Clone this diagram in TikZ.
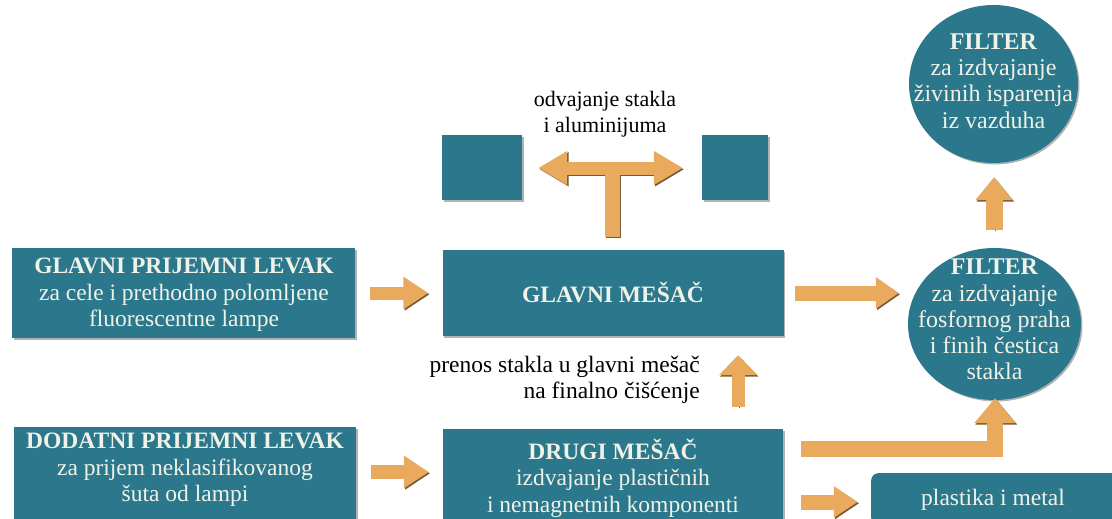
\documentclass[tikz,border=0pt]{standalone}
\usepackage{fontspec}
\setmainfont{Liberation Serif}
\usetikzlibrary{shapes.geometric,shadows,arrows.meta,calc}
\definecolor{boxteal}{RGB}{43,120,140}
\definecolor{boxtext}{RGB}{240,242,232}
\definecolor{arroworange}{RGB}{233,170,94}
\definecolor{arrowshade}{RGB}{120,88,55}
\begin{document}
\begin{tikzpicture}[x=1pt,y=-1pt,
  txt/.style={font=\fontsize{23.5}{26.5}\selectfont, align=center, inner sep=0pt},
  tealbox/.style={rectangle, fill=boxteal, text=boxtext, inner sep=0pt,
    drop shadow={shadow xshift=1.5pt, shadow yshift=-1.5pt, fill=black, opacity=0.3}},
  tealoval/.style={ellipse, fill=boxteal, inner sep=0pt,
    drop shadow={shadow xshift=1.5pt, shadow yshift=-1.5pt, fill=black, opacity=0.3}},
  intext/.style={txt, text=boxtext},
  ovaltext/.style={txt, text=boxtext, font=\fontsize{24}{26.2}\selectfont},
  freetext/.style={txt, text=black},
  blockarrow/.style n args={3}{draw=arroworange, line width=#1, line join=miter,
    -{Triangle[width=#2,length=#3]},
    preaction={draw=arrowshade, transform canvas={shift={(1.3pt,-1.3pt)}}}},
]
\useasboundingbox (0,0) rectangle (1112,519);
\fill[white] (0,0) rectangle (1112,519);

% boxes
\node[tealbox, minimum width=343, minimum height=90] (L1) at (183.5,293) {};
\node[intext] at (184,295) {\textbf{GLAVNI PRIJEMNI LEVAK}\\za cele i prethodno polomljene\\fluorescentne lampe};
\node[tealbox, minimum width=342, minimum height=94] (L2) at (185,474) {};
\node[intext] (L2t) at (185,470) {\textbf{DODATNI PRIJEMNI LEVAK}\\za prijem neklasifikovanog\\šuta od lampi};
\node[tealbox, minimum width=341, minimum height=86] (M1) at (613,293) {};
\node[intext] at (613,292) {\textbf{GLAVNI MEŠAČ}};
\node[tealbox, minimum width=340, minimum height=96] (M2) at (613,477) {};
\node[intext] at (613,478) {\textbf{DRUGI MEŠAČ}\\izdvajanje plastičnih\\i nemagnetnih komponenti};
\node[tealbox, minimum width=80, minimum height=65] (S1) at (482,167.5) {};
\node[tealbox, minimum width=66, minimum height=65] (S2) at (735,167.5) {};
\node[tealoval, minimum width=169, minimum height=158] (F1) at (993.5,84) {};
\node[ovaltext] at (993.5,81) {\textbf{FILTER}\\za izdvajanje\\živinih isparenja\\iz vazduha};
\node[tealoval, minimum width=173, minimum height=152] (F2) at (994.5,324) {};
\node[ovaltext] at (994.5,319.5) {\textbf{FILTER}\\za izdvajanje\\fosfornog praha\\i finih čestica\\stakla};
\node[tealbox, rounded corners=8pt, minimum width=254, minimum height=52] (P) at (998,499) {};
\node[intext] at (993,500) {plastika i metal};

% free labels
\node[freetext, font=\fontsize{22}{26}\selectfont] (lab1) at (605,114) {odvajanje stakla\\i aluminijuma};
\node[freetext, align=right, anchor=east] (lab2) at (700,380) {prenos stakla u glavni mešač\\na finalno čišćenje};

% arrows
\draw[blockarrow={13pt}{31pt}{25pt}] ($(L1.east)+(15,0)$) -- ($(M1.west)+(-14,0)$);
\draw[blockarrow={14pt}{31pt}{25pt}] ($(L2.east)+(15,-2)$) -- ($(L2.east -| M2.west)+(-14,-2)$);
\draw[blockarrow={15pt}{30pt}{23pt}] ($(M1.east)+(11,0)$) -- ($(M1.east -| F2.west)+(-9,0)$);
\draw[blockarrow={13pt}{37pt}{20pt}] ($(M2.north)+(125,-22)$) -- ($(M1.south)+(125,19)$);
\draw[blockarrow={17pt}{36pt}{23pt}] ($(F2.north)+(-0.5,-18)$) -- ($(F1.south)+(0.5,14)$);
\draw[blockarrow={16pt}{40pt}{25pt}] ($(M2.east)+(18,-28)$) -| ($(F2.south)+(0.5,-2)$);
\draw[blockarrow={15pt}{30pt}{24pt}] ($(M2.east)+(18,25)$) -- ($(P.west)+(-13,3)$);

% T-shaped double arrow
\coordinate (tj) at (612,168);
\draw[arrowshade, line width=15pt, transform canvas={shift={(1.3pt,-1.3pt)}}] ($(M1.north)+(-1,-13)$) -- (tj);
\draw[arrowshade, line width=13pt, {Triangle[width=32pt,length=29pt]}-{Triangle[width=32pt,length=29pt]}, transform canvas={shift={(1.3pt,-1.3pt)}}] ($(S1.east)+(16,0.5)$) -- ($(S2.west)+(-19,0.5)$);
\draw[arroworange, line width=15pt] ($(M1.north)+(-1,-13)$) -- (tj);
\draw[arroworange, line width=13pt, {Triangle[width=32pt,length=29pt]}-{Triangle[width=32pt,length=29pt]}] ($(S1.east)+(16,0.5)$) -- ($(S2.west)+(-19,0.5)$);
\end{tikzpicture}
\end{document}
